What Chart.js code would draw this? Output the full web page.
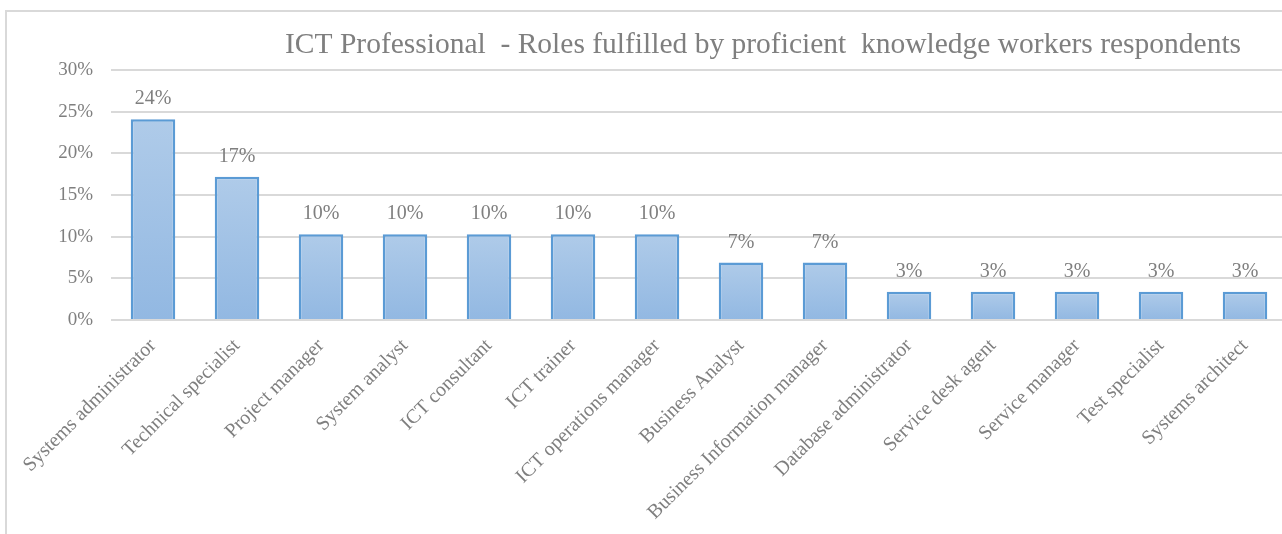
<!DOCTYPE html>
<html>
<head>
<meta charset="utf-8">
<script src="https://cdn.jsdelivr.net/npm/chart.js@4/dist/chart.umd.min.js"></script>
<style>
  html, body { margin: 0; padding: 0; background: #fff; overflow: hidden; }
  .frame {
    position: absolute; left: 5px; top: 10px; width: 1400px; height: 600px;
    border-left: 2px solid #d9d9d9; border-top: 2px solid #d9d9d9;
  }
  #chart { position: absolute; left: 0; top: 0; }
</style>
</head>
<body>
<div class="frame"></div>
<canvas id="chart" width="1300" height="534"></canvas>
<script>
// Roles fulfilled by the proficient knowledge-worker respondents (share of respondents, %)
const roles = [
    'Systems administrator',
    'Technical specialist',
    'Project manager',
    'System analyst',
    'ICT consultant',
    'ICT trainer',
    'ICT operations manager',
    'Business Analyst',
    'Business Information manager',
    'Database administrator',
    'Service desk agent',
    'Service manager',
    'Test specialist',
    'Systems architect'
];
const shares = [24.1, 17.2, 10.3, 10.3, 10.3, 10.3, 10.3, 6.9, 6.9, 3.4, 3.4, 3.4, 3.4, 3.4];
const yMax = 30;
const yStep = 5;

const titleText = 'ICT Professional  - Roles fulfilled by proficient  knowledge workers respondents';
const textColor = '#7f7f7f';
const fontFamily = "'Liberation Serif', 'DejaVu Serif', serif";

// Title sits to the right, like the original sheet layout
const titlePlugin = {
    id: 'sheetTitle',
    afterDraw(chart) {
        const ctx = chart.ctx;
        ctx.save();
        ctx.font = '29.5px ' + fontFamily;
        ctx.fillStyle = textColor;
        ctx.textAlign = 'left';
        ctx.textBaseline = 'alphabetic';
        ctx.fillText(titleText, 285, 53);
        ctx.restore();
    }
};

// Percent labels above each bar
const valueLabels = {
    id: 'valueLabels',
    afterDatasetsDraw(chart) {
        const ctx = chart.ctx;
        const meta = chart.getDatasetMeta(0);
        ctx.save();
        ctx.font = '20px ' + fontFamily;
        ctx.fillStyle = textColor;
        ctx.textAlign = 'center';
        ctx.textBaseline = 'alphabetic';
        meta.data.forEach((bar, i) => {
            ctx.fillText(Math.round(shares[i]) + '%', bar.x, bar.y - 15);
        });
        ctx.restore();
    }
};

// Light-to-darker blue fill for every bar
function barGradient(context) {
    const chart = context.chart;
    const yScale = chart.scales.y;
    if (!yScale || context.dataIndex === undefined) return '#a5c2e6';
    const top = yScale.getPixelForValue(shares[context.dataIndex]);
    const bottom = yScale.getPixelForValue(0);
    if (!isFinite(top) || !isFinite(bottom) || top === bottom) return '#a5c2e6';
    const g = chart.ctx.createLinearGradient(0, top, 0, bottom);
    g.addColorStop(0, '#afcbe9');
    g.addColorStop(1, '#92b8e2');
    return g;
}

new Chart(document.getElementById('chart'), {
    type: 'bar',
    data: {
        labels: roles,
        datasets: [{
            data: shares,
            backgroundColor: barGradient,
            borderColor: '#5b9bd5',
            borderWidth: 2.5,
            barPercentage: 0.53,
            categoryPercentage: 1
        }]
    },
    options: {
        responsive: false,
        animation: false,
        layout: {
            padding: { top: 70, right: 13, left: 0, bottom: 0 }
        },
        plugins: {
            legend: { display: false },
            tooltip: { enabled: false }
        },
        scales: {
            y: {
                min: 0,
                max: yMax,
                ticks: {
                    stepSize: yStep,
                    padding: 18,
                    color: textColor,
                    font: { family: fontFamily, size: 19 },
                    callback: v => v + '%'
                },
                grid: { color: '#d9d9d9', lineWidth: 2, drawTicks: false },
                border: { display: false },
                afterFit: s => { s.width = 111; }
            },
            x: {
                ticks: {
                    minRotation: 45,
                    maxRotation: 45,
                    padding: 6,
                    color: textColor,
                    font: { family: fontFamily, size: 20 }
                },
                grid: { display: false },
                border: { display: false },
                afterFit: s => { s.height = 214; }
            }
        }
    },
    plugins: [titlePlugin, valueLabels]
});
</script>
</body>
</html>
